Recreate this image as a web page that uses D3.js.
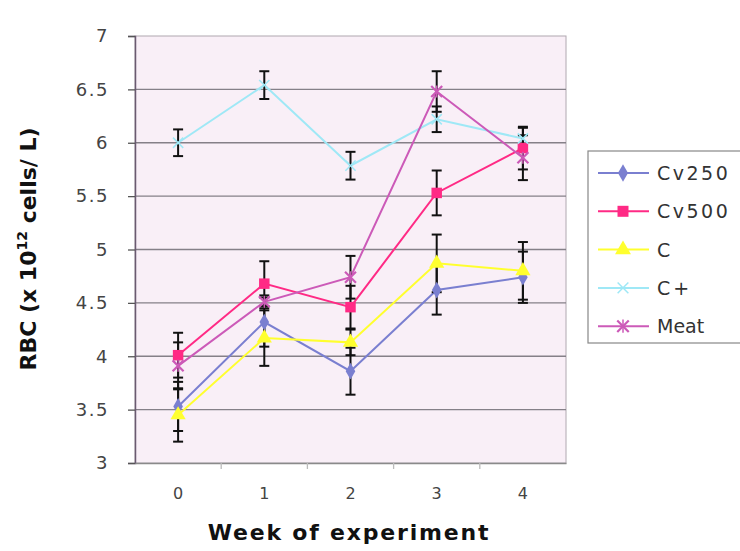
<!DOCTYPE html>
<html><head><meta charset="utf-8">
<script src="https://cdn.jsdelivr.net/npm/d3@7"></script>
<style>body{margin:0;background:#fff}svg{display:block}</style>
</head><body>
<svg id="c" width="740" height="551"></svg>
<script>
const weeks = ["0","1","2","3","4"];
const yTicks = [3,3.5,4,4.5,5,5.5,6,6.5,7];
const seriesNames = ["Cv250","Cv500","C","C+","Meat"];
const cv250 = [3.53,4.32,3.86,4.62,4.74];
const cv250Err = [0.23,0.23,0.22,0.23,0.24];
const cv500 = [4.01,4.68,4.46,5.53,5.95];
const cv500Err = [0.21,0.21,0.2,0.21,0.2];
const cC = [3.45,4.17,4.13,4.87,4.80];
const cErr = [0.25,0.26,0.12,0.27,0.27];
const cPlus = [6.0,6.54,5.785,6.22,6.04];
const cPlusErr = [0.125,0.13,0.13,0.12,0.1];
const meat = [3.91,4.51,4.74,6.48,5.86];
const meatErr = [0.22,0.06,0.2,0.19,0.21];

const colors = ["#7a7fd0","#ff2a85","#ffff2e","#9fe8f6","#cc5ab8"];
const symbols = ["diamond","square","triangle","x","star"];
const data = [
  {name:seriesNames[0], v:cv250, e:cv250Err},
  {name:seriesNames[1], v:cv500, e:cv500Err},
  {name:seriesNames[2], v:cC, e:cErr},
  {name:seriesNames[3], v:cPlus, e:cPlusErr},
  {name:seriesNames[4], v:meat, e:meatErr}
];

const svg = d3.select("#c");
const L=135, R=566, T=36, B=463;
const x = d3.scaleBand().domain(weeks).range([L,R]);
const y = d3.scaleLinear().domain([3,7]).range([B,T]);

svg.append("rect").attr("x",L).attr("y",T).attr("width",R-L).attr("height",B-T)
  .attr("fill","#f9eff7").attr("stroke","#b0a8b0").attr("stroke-width",1);

// grid
svg.append("g").selectAll("line").data(yTicks.filter(d=>d>3&&d<7)).join("line")
  .attr("x1",L).attr("x2",R).attr("y1",d=>y(d)).attr("y2",d=>y(d))
  .attr("stroke","#858088").attr("stroke-width",1.4);

// y axis
const ya = svg.append("g").attr("transform",`translate(${L},0)`)
  .call(d3.axisLeft(y).tickValues(yTicks).tickSize(7).tickPadding(19).tickFormat(d3.format("")));
ya.select(".domain").attr("stroke","#6a5a70").attr("stroke-width",1.5);
ya.selectAll(".tick line").attr("stroke","#555").attr("stroke-width",1.3);
ya.selectAll("text").attr("font-family","DejaVu Sans, Verdana, sans-serif").attr("font-size",18).attr("fill","#444").attr("letter-spacing",1.5);

// x axis
const xa = svg.append("g").attr("transform",`translate(0,${B})`)
  .call(d3.axisBottom(x).tickSize(0).tickPadding(25));
xa.select(".domain").attr("stroke","#8a8a8a").attr("stroke-width",1.5);
xa.selectAll("text").attr("font-family","DejaVu Sans, Verdana, sans-serif").attr("font-size",16).attr("fill","#444");
svg.append("g").selectAll("line").data(weeks.slice(1)).join("line")
  .attr("x1",d=>x(d)).attr("x2",d=>x(d)).attr("y1",B).attr("y2",B+6)
  .attr("stroke","#bbb").attr("stroke-width",1.3);

// lines
const cx = d=>x(d)+x.bandwidth()/2;
const line = d3.line().x((d,i)=>cx(weeks[i])).y(d=>y(d));
data.forEach((s,k)=>{
  svg.append("path").attr("d",line(s.v)).attr("fill","none")
    .attr("stroke",colors[k]).attr("stroke-width",2);
});

function marker(g, k, size){
  const c = colors[k];
  const t = symbols[k];
  if(t==="diamond") g.append("path").attr("d",d3.symbol(d3.symbolDiamond, size*8)()).attr("fill",c);
  else if(t==="square") g.append("path").attr("d",d3.symbol(d3.symbolSquare, size*11)()).attr("fill",c);
  else if(t==="triangle") g.append("path").attr("d",d3.symbol(d3.symbolTriangle, size*10)()).attr("fill",c);
  else if(t==="x") g.append("path").attr("d",d3.symbol(d3.symbolX, size*7)()).attr("fill","none").attr("stroke",c).attr("stroke-width",1.5);
  else {
    g.append("path").attr("d",d3.symbol(d3.symbolX, size*8)()).attr("fill","none").attr("stroke",c).attr("stroke-width",2.2);
    g.append("path").attr("d",`M0,${-size*0.6}V${size*0.6}`).attr("stroke",c).attr("stroke-width",1.5);
  }
}

// error bars
data.forEach((s,k)=>{
  const g = svg.append("g");
  s.v.forEach((v,i)=>{
    const px = cx(weeks[i]);
    const e = s.e[i];
    g.append("line").attr("x1",px).attr("x2",px).attr("y1",y(v+e)).attr("y2",y(v-e)).attr("stroke","#111").attr("stroke-width",2);
    [v+e,v-e].forEach(w=>g.append("line").attr("x1",px-5).attr("x2",px+5).attr("y1",y(w)).attr("y2",y(w)).attr("stroke","#111").attr("stroke-width",2));
  });
});

// markers
data.forEach((s,k)=>{
  s.v.forEach((v,i)=>{
    const g = svg.append("g").attr("transform",`translate(${cx(weeks[i])},${y(v)})`);
    marker(g,k,10);
  });
});

// axis titles
svg.append("text").attr("transform","translate(36,249) rotate(-90)").attr("text-anchor","middle")
  .attr("font-family","DejaVu Sans, Verdana, sans-serif").attr("font-weight","bold").attr("font-size",22).attr("fill","#111")
  .call(t=>{
    t.append("tspan").text("RBC (x 10");
    t.append("tspan").attr("font-size",14).attr("dy",-9).text("12");
    t.append("tspan").attr("dy",9).text(" cells/ L)");
  });
svg.append("text").attr("x",349).attr("y",540).attr("text-anchor","middle")
  .attr("font-family","DejaVu Sans, Verdana, sans-serif").attr("font-weight","bold").attr("font-size",22).attr("fill","#111")
  .attr("letter-spacing",1.8).text("Week of experiment");

// legend
const lg = svg.append("g");
lg.append("rect").attr("x",588).attr("y",151).attr("width",160).attr("height",192)
  .attr("fill","#fff").attr("stroke","#888").attr("stroke-width",1.2);
data.forEach((s,k)=>{
  const yy = 173 + k*38.3;
  lg.append("line").attr("x1",598).attr("x2",649).attr("y1",yy).attr("y2",yy).attr("stroke",colors[k]).attr("stroke-width",2);
  const g = lg.append("g").attr("transform",`translate(623,${yy})`);
  marker(g,k,11);
  lg.append("text").attr("x",657).attr("y",yy+7).attr("font-family","DejaVu Sans, Verdana, sans-serif")
    .attr("font-size",19).attr("fill","#333").attr("letter-spacing",k<2?2.5:(k===3?3:0)).text(s.name);
});
</script>
</body></html>
